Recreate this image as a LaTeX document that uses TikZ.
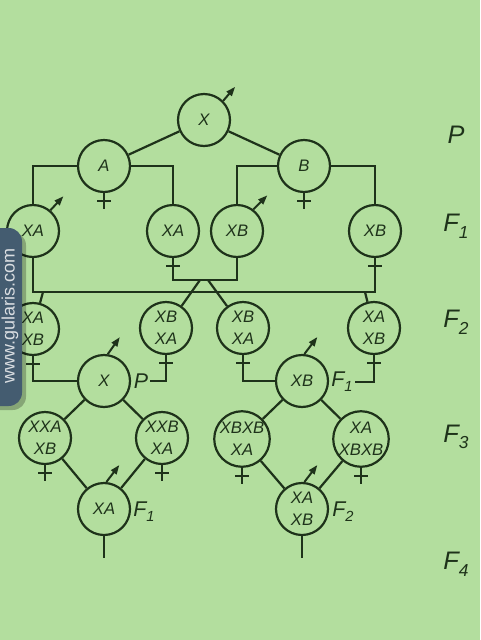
\documentclass[tikz,border=0pt]{standalone}
\usepackage{fontspec}
\setmainfont{Liberation Sans}
\usetikzlibrary{calc,arrows.meta}
\definecolor{bg}{RGB}{179,222,158}
\definecolor{ink}{RGB}{30,50,26}
\definecolor{tab}{RGB}{68,92,112}
\newcommand\femsym[1]{%
  \draw[wire] (#1.south) -- ++(0,16);
  \draw[wire] ($(#1.south)+(-7,8)$) -- ++(14,0);}
\begin{document}
\begin{tikzpicture}[x=0.75pt,y=-0.75pt,
  wire/.style={draw=ink,line width=1.65pt},
  male/.style={draw=ink,line width=1.5pt,-{Triangle[length=7pt,width=5pt]}},
  gnode/.style={circle,draw=ink,line width=1.65pt,minimum size=39pt,inner sep=0pt,
    align=center,text=ink,font=\fontsize{12.5}{16.5}\selectfont\itshape},
  inlab/.style={text=ink,inner sep=1.5pt,font=\fontsize{16}{18}\selectfont\itshape},
  gen/.style={text=ink,inner sep=1pt,font=\fontsize{19}{22}\selectfont\itshape}]
\fill[bg] (0,0) rectangle (480,640);
\useasboundingbox (0,0) rectangle (480,640);

% nodes
\node[gnode] (nX) at (204,120) {X};
\node[gnode] (nA) at (104,166) {A};
\node[gnode] (nB) at (304,166) {B};
\node[gnode] (xa1) at (33,231) {XA};
\node[gnode] (xa2) at (173,231) {XA};
\node[gnode] (xb1) at (237,231) {XB};
\node[gnode] (xb2) at (375,231) {XB};
\node[gnode] (f2a) at (33,329) {XA\\XB};
\node[gnode] (f2b) at (166,328) {XB\\XA};
\node[gnode] (f2c) at (243,328) {XB\\XA};
\node[gnode] (f2d) at (374,328) {XA\\XB};
\node[gnode] (xp) at (104,381) {X};
\node[inlab] (pl) at (141,381) {P};
\node[gnode] (xxa) at (45,438) {XXA\\XB};
\node[gnode] (xxb) at (162,438) {XXB\\XA};
\node[gnode] (xaf) at (104,509) {XA};
\node[inlab] (fl1) at (144,512) {F\raisebox{-0.45ex}{\fontsize{11}{11}\selectfont 1}};
\node[gnode] (xbf) at (302,381) {XB};
\node[inlab] (fl) at (342,382) {F\raisebox{-0.45ex}{\fontsize{11}{11}\selectfont 1}};
\node[gnode] (xbxb) at (242,439) {XBXB\\XA};
\node[gnode] (xaxbxb) at (361,439) {XA\\XBXB};
\node[gnode] (xaxb) at (302,509) {XA\\XB};
\node[inlab] (fl2) at (343,512) {F\raisebox{-0.45ex}{\fontsize{11}{11}\selectfont 2}};

% generation labels
\node[gen] (gP) at (456,135) {P};
\node[gen] (gF1) at (456,226) {F\raisebox{-0.5ex}{\fontsize{13}{13}\selectfont 1}};
\node[gen] (gF2) at (456,322) {F\raisebox{-0.5ex}{\fontsize{13}{13}\selectfont 2}};
\node[gen] (gF3) at (456,437) {F\raisebox{-0.5ex}{\fontsize{13}{13}\selectfont 3}};
\node[gen] (gF4) at (456,564) {F\raisebox{-0.5ex}{\fontsize{13}{13}\selectfont 4}};

% coordinates
\coordinate (barT) at (173,280);
\coordinate (barR) at (375,292);
\coordinate (vL) at (200,280);
\coordinate (vR) at (208,280);
\coordinate (bL) at (43,292);
\coordinate (bR) at (365,292);
\coordinate (endL) at (104,558);
\coordinate (endR) at (302,558);

% P generation
\draw[wire] (nX) -- (nA);
\draw[wire] (nX) -- (nB);
\draw[wire] (nA.west) -| (xa1.north);
\draw[wire] (nA.east) -| (xa2.north);
\draw[wire] (nB.west) -| (xb1.north);
\draw[wire] (nB.east) -| (xb2.north);

% F1 crosses
\draw[wire] (xa2.south) -- (barT) -| (xb1.south);
\draw[wire] (xb2.south) -- (barR) -| (xa1.south);
\draw[wire] (vL) -- (f2b);
\draw[wire] (vR) -- (f2c);
\draw[wire] (bL) -- (f2a);
\draw[wire] (bR) -- (f2d);

% F2 backcrosses
\draw[wire] (f2a.south) |- (xp.west);
\draw[wire] (f2b.south) |- (pl.east);
\draw[wire] (f2c.south) |- (xbf.west);
\draw[wire] (f2d.south) |- (fl.east);

% diamonds
\draw[wire] (xp) -- (xxa);
\draw[wire] (xp) -- (xxb);
\draw[wire] (xxa) -- (xaf);
\draw[wire] (xxb) -- (xaf);
\draw[wire] (xaf) -- (endL);
\draw[wire] (xbf) -- (xbxb);
\draw[wire] (xbf) -- (xaxbxb);
\draw[wire] (xbxb) -- (xaxb);
\draw[wire] (xaxbxb) -- (xaxb);
\draw[wire] (xaxb) -- (endR);

% female symbols
\femsym{nA}
\femsym{nB}
\femsym{xa2}
\femsym{xb2}
\femsym{f2a}
\femsym{f2b}
\femsym{f2c}
\femsym{f2d}
\femsym{xxa}
\femsym{xxb}
\femsym{xbxb}
\femsym{xaxbxb}

% male symbols
\draw[male] (nX.45) -- ++(12,-14);
\draw[male] (xa1.50) -- ++(13,-14);
\draw[male] (xb1.53) -- ++(14,-14);
\draw[male] (xp.82) -- ++(12,-17);
\draw[male] (xaf.85) -- ++(13,-17);
\draw[male] (xbf.85) -- ++(13,-17);
\draw[male] (xaxb.85) -- ++(13,-17);

% watermark tab
\fill[black,opacity=0.25,rounded corners=10pt] (-20,232) rectangle (26,410);
\fill[tab,rounded corners=10pt] (-20,228) rectangle (22,406);
\node[rotate=90,text=white!80!tab,font=\fontsize{13.5}{14}\selectfont] (wm) at (10,316) {www.gularis.com};
\end{tikzpicture}
\end{document}
